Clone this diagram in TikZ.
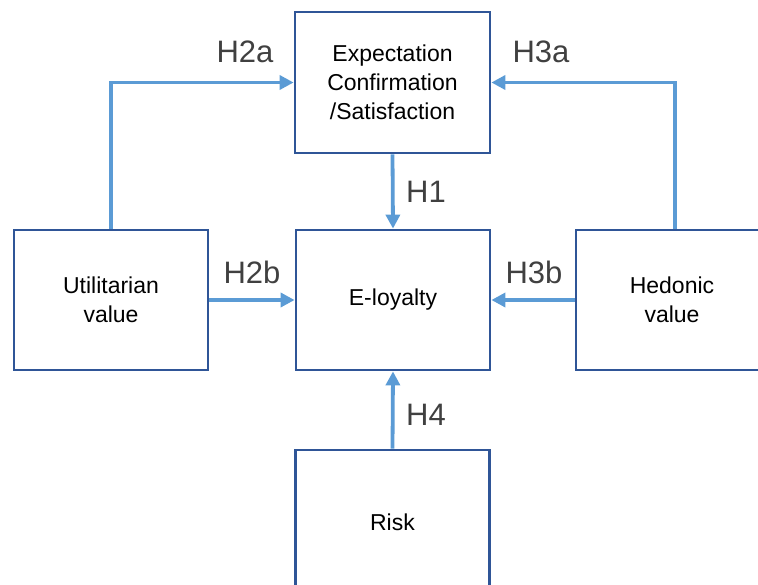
\documentclass[tikz,border=0pt]{standalone}
\usepackage{fontspec}
\setmainfont{Liberation Sans}
\usetikzlibrary{arrows.meta}
\definecolor{boxblue}{HTML}{2F5597}
\definecolor{arrowblue}{HTML}{5B9BD5}
\definecolor{labelgray}{HTML}{404040}
\tikzset{
	construct/.style={draw=boxblue, line width=2.8pt, fill=white, minimum width=194pt, minimum height=140pt, align=center, font=\fontsize{23}{29}\selectfont, inner sep=0pt},
	path/.style={draw=arrowblue, line width=3.8pt, -{Triangle[length=14pt,width=14pt]}},
	hyp/.style={text=labelgray, font=\fontsize{31}{34}\selectfont, inner sep=0pt}
}

\begin{document}
\begin{tikzpicture}[x=1pt, y=-1pt]
	\useasboundingbox (0,0) rectangle (758,584);
	\clip (0,0) rectangle (758,584);

		\node[construct, minimum width=195pt, minimum height=141pt] (exp) at (392.5,82.5) {Expectation\\Confirmation\\/Satisfaction};
		\node[construct] (loy) at (393,300) {E-loyalty};
		\node[construct] (util) at (111,300) {Utilitarian\\value};
		\node[construct, minimum width=192pt] (hed) at (672,300) {Hedonic\\value};
		\node[construct, minimum height=144pt] (risk) at (392.5,522) {Risk};

		\draw[path] (util.north) |- (exp.west);
		\draw[path] ([xshift=3pt]hed.north) |- (exp.east);
		\draw[path] (exp.south) -- (loy.north);
		\draw[path] (util.east) -- (loy.west);
		\draw[path] (hed.west) -- (loy.east);
		\draw[path] (risk.north) -- (loy.south);

		\node[hyp] (h2a) at (245,52) {H2a};
		\node[hyp] (h3a) at (541,52) {H3a};
		\node[hyp] (h1) at (426,192) {H1};
		\node[hyp] (h2b) at (252,272) {H2b};
		\node[hyp] (h3b) at (534,272) {H3b};
		\node[hyp] (h4) at (426,415) {H4};
\end{tikzpicture}
\end{document}
